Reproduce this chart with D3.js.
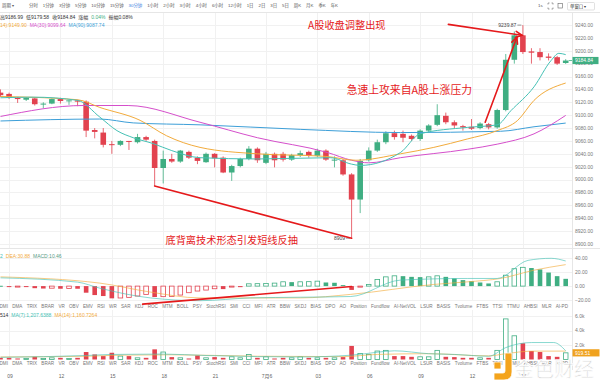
<!DOCTYPE html>
<html>
<head>
<meta charset="utf-8">
<script src="https://cdn.jsdelivr.net/npm/d3@7/dist/d3.min.js"></script>
<style>
  body { margin: 0; background: #fff; }
  svg { display: block; font-family: "Liberation Sans", Arial, "Noto Sans CJK SC", sans-serif; }
</style>
</head>
<body>
<svg id="chart" width="600" height="382"></svg>
<script>
// 30 minute candles, 5 Jul 08:30 -> 6 Jul 17:30
const opens  = [9135,9133,9127,9124,9126,9117,9118,9125,9122,9123,9121,9077,9073,9055,9054,9060,9058,9066,9060,9018,9032,9028,9043,9034,9027,9040,9034,9011,9021,9032,9048,9026,9040,9040,9031,9038,9043,9037,9045,9030,9030,9008,8969,9030,9045,9058,9072,9071,9068,9063,9076,9085,9099,9089,9083,9082,9080,9086,9081,9108,9186,9224,9199,9198,9191,9190,9181];
const highs  = [9140,9135,9128,9128,9127,9120,9126,9127,9123,9124,9123,9080,9080,9060,9061,9060,9071,9068,9062,9045,9040,9046,9045,9036,9042,9041,9036,9023,9034,9052,9050,9043,9042,9043,9040,9045,9045,9048,9047,9036,9032,9010,9032,9050,9062,9075,9076,9076,9070,9078,9086,9117,9104,9092,9085,9094,9089,9088,9110,9195,9230,9239.87,9204,9204,9196,9192,9186.99];
const lows   = [9128,9125,9119,9122,9115,9111,9117,9118,9116,9114,9066,9064,9050,9040,9052,9046,9056,9060,8990,8994,9026,9026,9032,9024,9026,9019,9010,8998,9019,9030,9026,9024,9019,9028,9029,9035,9034,9035,9029,9019,9006,8909,8948,9028,9043,9055,9062,9058,9060,9060,9074,9083,9086,9080,9076,9077,9078,9078,9079,9106,9180,9195,9180,9185,9185,9178,9179.58];
const closes = [9131,9127,9125,9127,9117,9118,9125,9122,9123,9121,9076,9074,9054,9054,9060,9059,9066,9062,9018,9032,9028,9045,9034,9029,9040,9033,9011,9021,9032,9048,9030,9040,9030,9031,9038,9041,9037,9045,9031,9031,9008,8969,9029,9045,9058,9072,9066,9065,9063,9076,9084,9100,9089,9084,9081,9079,9087,9081,9108,9186,9224,9198,9197,9190,9189,9180,9184.84];
const volumes = [230,230,140,140,370,140,230,230,140,230,1030,700,470,930,470,470,230,230,1400,1030,330,230,140,560,230,330,230,370,230,700,230,370,140,230,230,370,230,230,230,230,330,1870,840,700,1170,1260,470,470,370,370,370,1260,370,330,230,230,230,230,1260,5600,3270,2240,1170,1030,470,370,919.5];
const macdHist = [0.5,-1,-1,-1.2,-3,-3.5,-3,-3.8,-3.3,-3.8,-9.5,-12.9,-14.3,-17.6,-17.1,-16.2,-14.3,-11.9,-15.7,-15.2,-14.8,-12.9,-9.5,-7.1,-5.7,-3.8,-4.3,-1.2,-1.5,3.3,3.5,3.8,4.3,6.2,5.7,6.2,6.4,7.1,5.2,4.8,1.4,-5.5,-1.5,2.4,9.5,13.3,14.8,14.3,13.3,12.9,13.3,14.8,13.3,11,8.6,7.1,5.2,3.8,6.2,15.7,25,27,26,24,19.5,14.3,10.46];

// averages as [candle index, value]
const ma7  = [[0,9127],[3.8,9128],[9,9123],[11.6,9097],[13.6,9076],[15.5,9065],[17.8,9056],[20,9045],[23.3,9034],[30,9032],[38.5,9034],[41,9024],[42,9022],[46.7,9042],[49,9071],[54.5,9081],[58,9085],[59.6,9107],[62.3,9144],[64.3,9185],[65.2,9196],[66,9194]];
const ma14 = [[0,9129],[9,9124],[11.6,9112],[16.3,9092],[19.4,9068],[23.3,9050],[30,9040],[38,9036],[41.5,9030],[46.7,9040],[50.6,9050],[54.5,9063],[58,9076],[60.4,9092],[62.3,9123],[66,9149.9]];
const ma30 = [[0,9098],[9.7,9115],[14.9,9115],[23.3,9089],[30,9065],[38.2,9042],[41,9030],[43,9026],[46.7,9034],[54.5,9047],[58,9055],[62.3,9071],[66,9099.64]];
const ma90 = [[0,9091],[11.6,9094],[15.5,9088],[23.3,9085],[35,9078],[46.7,9073],[58.4,9075],[62.3,9082],[66,9087.74]];
const difLine = [[0,11.9],[9,5.7],[11.6,-3],[17.5,-17],[23.3,-21],[29.2,-17],[35,-16],[40.9,-15],[46.7,8.6],[54.5,11],[58,11],[61.6,37],[64.3,40],[66,36.1]];
const deaLine = [[0,13.3],[11.6,4.3],[17.5,-8.6],[23.3,-17],[35,-17],[40.9,-11.9],[50.6,2.4],[54.5,6.1],[58.4,11],[62.3,22.9],[66,30.88]];
const volMa7  = [[0,300],[10,550],[13,700],[19,750],[24,550],[30,400],[35,350],[41,600],[44,1000],[46,1200],[50,800],[53,700],[57,450],[59,1640],[62,2340],[64.6,2340],[66,1207.6]];
const volMa14 = [[0,350],[10,450],[14,600],[20,650],[30,450],[40,400],[44,700],[50,800],[57,500],[59,800],[62,1150],[66,1160.7]];

const priceTicks = d3.range(8900, 9241, 20);
const macdTicks = [-20, 0, 20, 40];
const volTicks = [2000, 4000, 6000];

const periods = ["分时","1分钟","3分钟","5分钟","10分钟","15分钟","30分钟","1小时","2小时","3小时","4小时","6小时","12小时","1日","2日","3日","5日","周K","月K","季K","年K"];
const indicatorTabs = ["DMI","DMA","TRIX","BRAR","VR","OBV","EMV","RSI","WR","SAR","KDJ","ROC","MTM","BOLL","PSY","StochRSI","SMI","CCI","MFI","ATR","BBW","SKDJ","BIAS","DPO","AO","Position","Fundflow","AI-NetVOL","LSUR","BASIS","Tvolume","FTBS","TTSI","TTMU","AHBSI","MLR","AI-PD"];

const UP = "#3fae82", DOWN = "#e2424f";
const TEAL = "#45c1b5", ORANGE = "#f2ab3c", MAGENTA = "#d54fcb", BLUE = "#3d9fd8", MARK = "#e5191b";
const N = opens.length;
const plotRight = 572;

const svg = d3.select("#chart");

const xi = d3.scaleLinear().domain([0, N - 1]).range([0.5, 565.7]);
const t0 = new Date(2020, 6, 5, 8, 30);
const xt = d3.scaleTime().domain([t0, d3.timeMinute.offset(t0, 30 * (N - 1))]).range(xi.range());
const yMain = d3.scaleLinear().domain([8900, 9240]).range([244, 25]);
const yMacd = d3.scaleLinear().domain([-20, 40]).range([300, 258.3]);
const yVol = d3.scaleLinear().domain([0, 6000]).range([359.5, 316]);

const timeTicks = xt.ticks(d3.timeHour.every(3));

// grid
const grid = svg.append("g").attr("stroke", "#f1f1f1").attr("stroke-width", 1);
[[13, 248], [250, 301], [310, 360]].forEach(([a, b]) => {
  grid.append("g").selectAll("line").data(timeTicks).join("line")
    .attr("x1", d => Math.round(xt(d)) + 0.5).attr("x2", d => Math.round(xt(d)) + 0.5)
    .attr("y1", a).attr("y2", b);
});
const hgrid = (ticks, y) => grid.append("g").selectAll("line").data(ticks).join("line")
  .attr("x1", 0).attr("x2", plotRight)
  .attr("y1", d => Math.round(y(d)) + 0.5).attr("y2", d => Math.round(y(d)) + 0.5);
hgrid(priceTicks, yMain);
hgrid(macdTicks, yMacd);
hgrid(volTicks, yVol);

// panel borders
const borders = svg.append("g").attr("stroke", "#e6e6e6");
borders.append("line").attr("x1", 0).attr("x2", 600).attr("y1", 12.5).attr("y2", 12.5);
borders.append("line").attr("x1", plotRight + 0.5).attr("x2", plotRight + 0.5).attr("y1", 13).attr("y2", 370);
borders.append("line").attr("x1", 0).attr("x2", 600).attr("y1", 248.5).attr("y2", 248.5);

// candles
const candles = d3.range(N).map(i => ({ i, o: opens[i], h: highs[i], l: lows[i], c: closes[i] }));
const cg = svg.append("g");
cg.selectAll("line").data(candles).join("line")
  .attr("x1", d => xi(d.i)).attr("x2", d => xi(d.i))
  .attr("y1", d => yMain(d.h)).attr("y2", d => yMain(d.l))
  .attr("stroke", d => d.c >= d.o ? UP : DOWN).attr("stroke-width", 0.8);
cg.selectAll("rect").data(candles).join("rect")
  .attr("x", d => xi(d.i) - 2.8).attr("width", 5.6)
  .attr("y", d => yMain(Math.max(d.o, d.c)))
  .attr("height", d => Math.max(1, Math.abs(yMain(d.o) - yMain(d.c))))
  .attr("fill", d => d.c >= d.o ? UP : DOWN);

// moving averages
const priceLine = d3.line().x(d => xi(d[0])).y(d => yMain(d[1])).curve(d3.curveMonotoneX);
[[ma90, BLUE], [ma30, MAGENTA], [ma14, ORANGE], [ma7, TEAL]].forEach(([pts, col]) => {
  svg.append("path").attr("d", priceLine(pts)).attr("fill", "none")
    .attr("stroke", col).attr("stroke-width", 1);
});

// high / low markers
const hiIdx = d3.maxIndex(highs), loIdx = d3.minIndex(lows);
[[hiIdx, highs[hiIdx], d3.format(".2f")(highs[hiIdx])], [loIdx, lows[loIdx], String(lows[loIdx])]].forEach(([i, v, label]) => {
  const x = xi(i), y = yMain(v);
  svg.append("line").attr("x1", x - 5.5).attr("x2", x - 1.5).attr("y1", y).attr("y2", y)
    .attr("stroke", "#555").attr("stroke-width", 0.6);
  svg.append("text").attr("x", x - 6.5).attr("y", y + 1.7).attr("text-anchor", "end")
    .attr("font-size", 5).attr("fill", "#444").text(label);
});

// last price
const last = closes[N - 1];
svg.append("line").attr("x1", xi(N - 1) + 3).attr("x2", plotRight).attr("y1", yMain(last)).attr("y2", yMain(last))
  .attr("stroke", UP).attr("stroke-width", 0.8);

// price axis
const axisText = svg.append("g").attr("font-size", 5).attr("fill", "#777");
axisText.selectAll("text.p").data(priceTicks).join("text").attr("class", "p")
  .attr("x", 575).attr("y", d => yMain(d) + 1.8).text(d => d3.format(".2f")(d));
svg.append("rect").attr("x", 572.5).attr("y", yMain(last) - 3.6).attr("width", 26).attr("height", 7.2).attr("fill", UP);
svg.append("text").attr("x", 575).attr("y", yMain(last) + 1.8).attr("font-size", 5).attr("fill", "#fff")
  .text(d3.format(".2f")(last));

// MACD
const mg = svg.append("g");
mg.selectAll("rect").data(macdHist).join("rect")
  .each(function (v, i) {
    const col = v >= 0 ? UP : DOWN;
    const filled = i === 0 || v < macdHist[i - 1];
    const y0 = yMacd(0), y1 = yMacd(v);
    const h = Math.max(1, Math.abs(y1 - y0));
    d3.select(this)
      .attr("x", xi(i) - 2.3).attr("width", 4.6)
      .attr("y", Math.min(y0, y1)).attr("height", h)
      .attr("fill", filled ? col : "#fff")
      .attr("stroke", col).attr("stroke-width", filled ? 0 : 0.8);
  });
const macdLine = d3.line().x(d => xi(d[0])).y(d => yMacd(d[1])).curve(d3.curveMonotoneX);
mg.append("path").attr("d", macdLine(deaLine)).attr("fill", "none").attr("stroke", ORANGE).attr("stroke-width", 0.8).attr("opacity", 0.8);
mg.append("path").attr("d", macdLine(difLine)).attr("fill", "none").attr("stroke", TEAL).attr("stroke-width", 0.8).attr("opacity", 0.8);
axisText.selectAll("text.m").data(macdTicks).join("text").attr("class", "m")
  .attr("x", 575).attr("y", d => yMacd(d) + 1.8).text(d => d3.format(".2f")(d));

// volume
const vg = svg.append("g");
vg.selectAll("rect").data(volumes).join("rect")
  .each(function (v, i) {
    const up = closes[i] >= opens[i];
    const y1 = yVol(v), y0 = yVol(0);
    d3.select(this)
      .attr("x", xi(i) - 2.3).attr("width", 4.6)
      .attr("y", y1).attr("height", Math.max(1, y0 - y1))
      .attr("fill", up ? "#fff" : DOWN)
      .attr("stroke", up ? UP : "none").attr("stroke-width", 0.8);
  });
const volLine = d3.line().x(d => xi(d[0])).y(d => yVol(d[1])).curve(d3.curveMonotoneX);
vg.append("path").attr("d", volLine(volMa14)).attr("fill", "none").attr("stroke", ORANGE).attr("stroke-width", 0.8).attr("opacity", 0.8);
vg.append("path").attr("d", volLine(volMa7)).attr("fill", "none").attr("stroke", TEAL).attr("stroke-width", 0.8).attr("opacity", 0.8);
axisText.selectAll("text.v").data(volTicks).join("text").attr("class", "v")
  .attr("x", 575).attr("y", d => yVol(d) + 1.8).text(d => d3.format(".1f")(d / 1000) + "k");
const lastVol = volumes[N - 1];
svg.append("rect").attr("x", 572.5).attr("y", yVol(lastVol) - 3.6).attr("width", 27).attr("height", 7.2).attr("fill", "#f0a21e");
svg.append("text").attr("x", 575).attr("y", yVol(lastVol) + 1.8).attr("font-size", 5).attr("fill", "#fff").text("919.51");

// legends, each row pushed left so its head is cut off like the reference
function legendRow(y, items, cutChars) {
  const t = svg.append("text").attr("y", y).attr("font-size", 5).attr("x", 0);
  items.forEach(([txt, col], k) => t.append("tspan").attr("fill", col).attr("dx", k ? 3 : 0).text(txt));
  const shift = t.node().getStartPositionOfChar(cutChars).x;
  t.attr("x", -shift);
}
legendRow(18.5, [["开9181.20", "#333"], ["高9186.99", "#333"], ["低9179.58", "#333"], ["收9184.84", "#333"], ["涨幅", "#333"], ["0.04%", UP], ["振幅0.08%", "#333"]], 8);
legendRow(27, [["MA(7):9194.43", TEAL], ["MA(14):9149.90", ORANGE], ["MA(30):9099.64", MAGENTA], ["MA(90):9087.74", BLUE]], 16);
legendRow(257.5, [["DIF:36.12", TEAL], ["DEA:30.88", ORANGE], ["MACD:10.46", "#5a9c86"]], 8);
legendRow(317, [["VOL:919.514", "#333"], ["MA(7):1,207.6388", TEAL], ["MA(14):1,160.7264", ORANGE]], 8);

// toolbar
function spread(sel, x0, x1) {
  const w = sel.nodes().map(n => n.getComputedTextLength());
  const gap = (x1 - x0 - d3.sum(w)) / (w.length - 1);
  let x = x0;
  sel.attr("x", (d, i) => { const v = x; x += w[i] + gap; return v; });
}
const tb = svg.append("g").attr("font-size", 4.4).attr("fill", "#555");
tb.append("text").attr("x", 2).attr("y", 7.4).text("周期 ▾");
spread(tb.selectAll("text.per").data(periods).join("text").attr("class", "per")
  .attr("y", 7.4).attr("fill", d => d === "30分钟" ? "#3a7de0" : "#555").text(d => d), 29, 338);
tb.append("text").attr("x", 538).attr("y", 7.4).text("1s");
tb.append("path").attr("d", "M548,4.5v-1.5h1.5M551.5,3h1.5v1.5M553,7.5v1.5h-1.5M549.5,9h-1.5v-1.5")
  .attr("fill", "none").attr("stroke", "#666").attr("stroke-width", 0.6);
tb.append("rect").attr("x", 558).attr("y", 3.5).attr("width", 4.5).attr("height", 4.5)
  .attr("fill", "none").attr("stroke", "#666").attr("stroke-width", 0.6);
tb.append("rect").attr("x", 567.5).attr("y", 2.5).attr("width", 27).attr("height", 7.5).attr("rx", 1)
  .attr("fill", "#fff").attr("stroke", "#ccc").attr("stroke-width", 0.6);
tb.append("text").attr("x", 570).attr("y", 7.6).attr("fill", "#333").text("单窗口 ▾");

// indicator tab rows
[307.5, 365].forEach(y => {
  spread(svg.append("g").attr("font-size", 4.6).attr("fill", "#777")
    .selectAll("text").data(indicatorTabs).join("text").attr("y", y).text(d => d), -0.5, 568);
});

// time axis
svg.append("g").attr("font-size", 5).attr("fill", "#666").attr("text-anchor", "middle")
  .selectAll("text").data(timeTicks).join("text")
  .attr("x", d => xt(d) + 1).attr("y", 378)
  .text(d => d.getHours() === 0 ? `${d.getMonth() + 1}月${d.getDate()}` : d3.timeFormat("%H")(d));

// annotations
const ann = svg.append("g").attr("stroke", MARK).attr("stroke-width", 1.6).attr("fill", "none").attr("stroke-linecap", "round");
ann.append("line")
  .attr("x1", xi(18)).attr("y1", yMain(lows[18])).attr("x2", xi(41)).attr("y2", yMain(lows[41]));
ann.append("line")
  .attr("x1", xi(16.6)).attr("y1", yMacd(-26)).attr("x2", xi(41)).attr("y2", yMacd(-0.6));
function arrow(p0, p1) {
  const x0 = xi(p0[0]), y0 = yMain(p0[1]), x1 = xi(p1[0]), y1 = yMain(p1[1]);
  const a = Math.atan2(y1 - y0, x1 - x0), L = 7, s = 0.45;
  ann.append("line").attr("x1", x0).attr("y1", y0).attr("x2", x1).attr("y2", y1);
  ann.append("path").attr("d", `M${x1 - L * Math.cos(a - s)},${y1 - L * Math.sin(a - s)}L${x1},${y1}L${x1 - L * Math.cos(a + s)},${y1 - L * Math.sin(a + s)}`);
}
arrow([52.3, 9241], [60.9, 9224]);
arrow([56.6, 9089], [60.3, 9221]);

const notes = svg.append("g").attr("fill", MARK).attr("font-family", "'Noto Sans CJK SC', sans-serif");
notes.append("text").attr("x", 308).attr("y", 28.5).attr("font-size", 10.2).text("A股收盘调整出现");
notes.append("text").attr("x", 472).attr("y", 94).attr("font-size", 10.8).attr("text-anchor", "end").text("急速上攻来自A股上涨压力");
notes.append("text").attr("x", 165.5).attr("y", 243.5).attr("font-size", 10.2).text("底背离技术形态引发短线反抽");

// watermark
const wm = svg.append("g");
wm.append("path").attr("d", "M505,353h7v19q0,8-8,8h-10v-7h9q2,0 2,-2z").attr("fill", "#f4a41c").attr("stroke", "#fff").attr("stroke-width", 0.8);
wm.append("rect").attr("x", 494).attr("y", 362).attr("width", 7).attr("height", 7).attr("fill", "#f4a41c").attr("stroke", "#fff").attr("stroke-width", 0.8);
wm.append("text").attr("x", 514).attr("y", 376.5).attr("font-size", 20).attr("font-family", "'Noto Sans CJK SC', sans-serif")
  .attr("fill", "#c9c9c9").attr("fill-opacity", 0.9).attr("stroke", "#fff").attr("stroke-width", 0.8).text("金色财经");
</script>
</body>
</html>
